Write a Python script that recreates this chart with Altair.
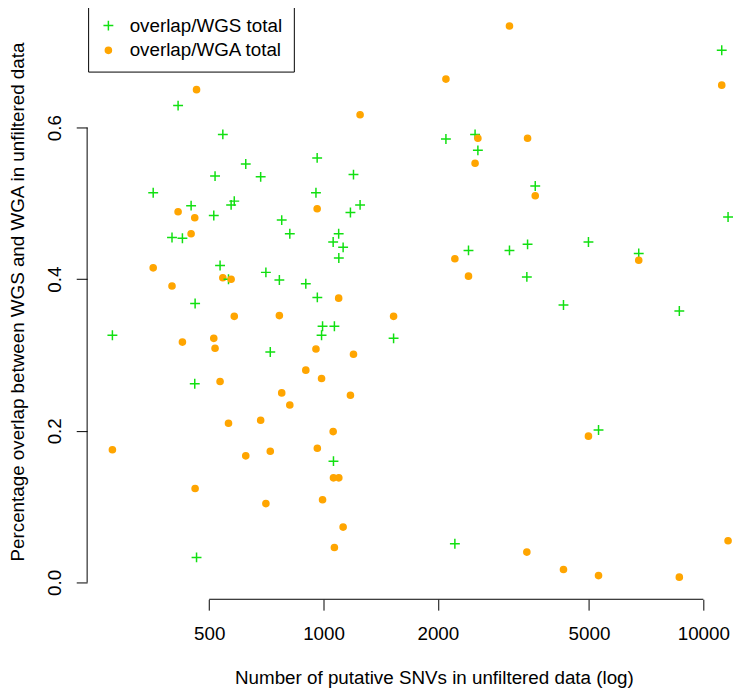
import altair as alt
import pandas as pd

# Number of putative SNVs per sample (log axis)
snvs = [278, 356, 399, 414, 425, 448, 458, 459, 463, 514, 518, 534, 543, 562, 571,
        582, 624, 683, 705, 724, 765, 776, 815, 898, 955, 962, 963, 988, 994, 1060,
        1062, 1068, 1096, 1097, 1126, 1177, 1199, 1248, 1529, 2100, 2217, 2408, 2506,
        2549, 3087, 3430, 3445, 3609, 4283, 4983, 5297, 6759, 8645, 11180, 11617]
# overlap / WGS total
wgs_ratio = [0.326, 0.514, 0.455, 0.629, 0.454, 0.497, 0.262, 0.368, 0.033, 0.484,
             0.536, 0.418, 0.591, 0.400, 0.498, 0.503, 0.552, 0.535, 0.409, 0.304,
             0.399, 0.478, 0.460, 0.394, 0.514, 0.560, 0.376, 0.326, 0.338, 0.449,
             0.160, 0.338, 0.460, 0.428, 0.442, 0.488, 0.538, 0.498, 0.322, 0.585,
             0.051, 0.438, 0.591, 0.570, 0.438, 0.403, 0.446, 0.523, 0.366, 0.449,
             0.201, 0.434, 0.358, 0.702, 0.482]
# overlap / WGA total
wga_ratio = [0.175, 0.415, 0.391, 0.489, 0.317, 0.460, 0.481, 0.124, 0.650, 0.322,
             0.309, 0.265, 0.402, 0.210, 0.400, 0.351, 0.167, 0.214, 0.104, 0.173,
             0.352, 0.250, 0.234, 0.280, 0.308, 0.493, 0.177, 0.269, 0.109, 0.199,
             0.138, 0.046, 0.375, 0.138, 0.073, 0.247, 0.301, 0.617, 0.351, 0.664,
             0.427, 0.404, 0.553, 0.586, 0.734, 0.040, 0.586, 0.510, 0.017, 0.193,
             0.009, 0.425, 0.007, 0.656, 0.055]

series_names = ["overlap/WGS total", "overlap/WGA total"]
x_ticks = [500, 1000, 2000, 5000, 10000]
y_ticks = [0.0, 0.2, 0.4, 0.6]

rows = []
for s, a, b in zip(snvs, wgs_ratio, wga_ratio):
    rows.append({"snvs": s, "overlap": a, "series": series_names[0]})
    rows.append({"snvs": s, "overlap": b, "series": series_names[1]})
df = pd.DataFrame(rows)

FONT = "Liberation Sans"
FS = 19
W, H = 653, 594

xscale = alt.Scale(type="log", domain=[238.5, 11970], nice=False)
yscale = alt.Scale(domain=[-0.0222, 0.7528], nice=False, zero=False)

xaxis = alt.Axis(values=x_ticks, format="d", domain=False, grid=False,
                 tickSize=11, tickColor="black", tickWidth=1,
                 labelFont=FONT, labelFontSize=FS, labelColor="black",
                 labelBaseline="alphabetic", labelPadding=29.5,
                 labelFlush=False, labelOverlap=False,
                 title="Number of putative SNVs in unfiltered data (log)",
                 titleFont=FONT, titleFontSize=FS, titleFontWeight="normal",
                 titleColor="black", titleBaseline="alphabetic",
                 titleAlign="center", titleX=350.6, titleY=85.5)
yaxis = alt.Axis(values=y_ticks, format=".1f", domain=False, grid=False,
                 tickSize=11, tickColor="black", tickWidth=1,
                 labelFont=FONT, labelFontSize=FS, labelColor="black",
                 labelAngle=270, labelAlign="center", labelBaseline="alphabetic",
                 labelPadding=16, labelFlush=False, labelOverlap=False,
                 title="Percentage overlap between WGS and WGA in unfiltered data",
                 titleFont=FONT, titleFontSize=FS, titleFontWeight="normal",
                 titleColor="black", titleAngle=270, titleBaseline="alphabetic",
                 titleAlign="center", titleX=-64, titleY=293)

plus_path = "M-1,0L1,0M0,-1L0,1"
dot_path = "M0.62,0A0.62,0.62,0,1,1,-0.62,0A0.62,0.62,0,1,1,0.62,0Z"

legend = alt.Legend(title=None, orient="none", legendX=1, legendY=-6.5,
                    strokeColor="black", fillColor="white", padding=11,
                    labelFont=FONT, labelFontSize=FS, labelColor="black",
                    labelOffset=12, labelLimit=400, rowPadding=5,
                    symbolSize=100, symbolStrokeWidth=1.5)

points = alt.Chart(df).mark_point(size=100, strokeWidth=1.5, opacity=1).encode(
    x=alt.X("snvs:Q", scale=xscale, axis=xaxis),
    y=alt.Y("overlap:Q", scale=yscale, axis=yaxis),
    shape=alt.Shape("series:N", sort=series_names,
                    scale=alt.Scale(domain=series_names, range=[plus_path, dot_path]),
                    legend=legend),
    stroke=alt.Stroke("series:N", sort=series_names,
                      scale=alt.Scale(domain=series_names, range=["#11e011", "#ffa500"]),
                      legend=legend),
    fill=alt.Fill("series:N", sort=series_names,
                  scale=alt.Scale(domain=series_names, range=["transparent", "#ffa500"]),
                  legend=legend),
)

xline_df = pd.DataFrame({"snvs": [min(x_ticks)], "snvs_end": [max(x_ticks)]})
yline_df = pd.DataFrame({"overlap": [min(y_ticks)], "overlap_end": [max(y_ticks)]})

xline = alt.Chart(xline_df).mark_rule(color="black", strokeWidth=1).encode(
    x=alt.X("snvs:Q", scale=xscale, axis=xaxis),
    x2="snvs_end:Q",
    y=alt.value(H),
)
yline = alt.Chart(yline_df).mark_rule(color="black", strokeWidth=1).encode(
    y=alt.Y("overlap:Q", scale=yscale, axis=yaxis),
    y2="overlap_end:Q",
    x=alt.value(0),
)

chart = alt.layer(points, xline, yline).properties(
    width=W, height=H,
    autosize=alt.AutoSizeParams(type="none"),
    padding={"left": 80, "top": 0, "right": 0, "bottom": 93},
    background="white",
).configure_view(stroke=None)

chart.save("out.html", embed_options={"renderer": "svg", "actions": False})
